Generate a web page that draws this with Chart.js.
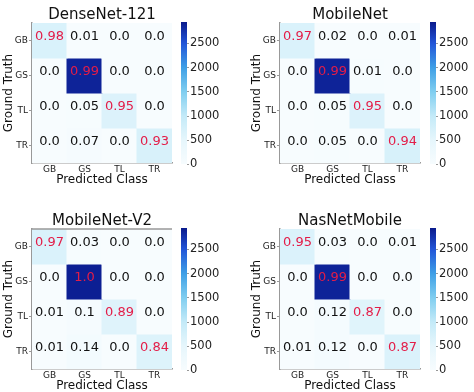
<!DOCTYPE html>
<html><head><meta charset="utf-8">
<script src="https://cdn.jsdelivr.net/npm/chart.js@4.4.1/dist/chart.umd.min.js"></script>
<style>
html,body{margin:0;padding:0;background:#fff;width:474px;height:392px;overflow:hidden;position:relative;}
canvas{position:absolute;}
</style></head><body>
<script>
// ---- data ----
const classes = ['GB', 'GS', 'TL', 'TR'];
const modelNames = ['DenseNet-121', 'MobileNet', 'MobileNet-V2', 'NasNetMobile'];
const denseNet121 = [[0.98, 0.01, 0.0, 0.0], [0.0, 0.99, 0.0, 0.0], [0.0, 0.05, 0.95, 0.0], [0.0, 0.07, 0.0, 0.93]];
const mobileNet = [[0.97, 0.02, 0.0, 0.01], [0.0, 0.99, 0.01, 0.0], [0.0, 0.05, 0.95, 0.0], [0.0, 0.05, 0.0, 0.94]];
const mobileNetV2 = [[0.97, 0.03, 0.0, 0.0], [0.0, 1.0, 0.0, 0.0], [0.01, 0.1, 0.89, 0.0], [0.01, 0.14, 0.0, 0.84]];
const nasNetMobile = [[0.95, 0.03, 0.0, 0.01], [0.0, 0.99, 0.0, 0.0], [0.0, 0.12, 0.87, 0.0], [0.01, 0.12, 0.0, 0.87]];
const classSupport = [700, 2900, 680, 760];
const colorbarTicks = [0, 500, 1000, 1500, 2000, 2500];
const colorbarMax = 2940;

// ---- style ----
const cmapStops = [[0, '#f7fcfe'], [500, '#e6f6fc'], [1000, '#c4eaf8'], [1500, '#80cef0'], [2000, '#3e9fe6'], [2500, '#2255d8'], [2940, '#0a1a8c']];
Chart.defaults.font.family = "'DejaVu Sans', sans-serif";

function hex2rgb(h) { return [1, 3, 5].map(i => parseInt(h.substr(i, 2), 16)); }
function cmap(v) {
  if (v <= cmapStops[0][0]) return cmapStops[0][1];
  for (let i = 1; i < cmapStops.length; i++) {
    const [v1, c1] = cmapStops[i];
    if (v <= v1) {
      const [v0, c0] = cmapStops[i - 1];
      const t = (v - v0) / (v1 - v0);
      const a = hex2rgb(c0), b = hex2rgb(c1);
      return 'rgb(' + a.map((x, k) => Math.round(x + (b[k] - x) * t)).join(',') + ')';
    }
  }
  return cmapStops[cmapStops.length - 1][1];
}
function fmt(v) { return Number.isInteger(v) ? v.toFixed(1) : String(v); }

function addCanvas(left, top, w, h) {
  const cv = document.createElement('canvas');
  cv.width = w; cv.height = h;
  cv.style.left = left + 'px'; cv.style.top = top + 'px';
  document.body.appendChild(cv);
  return cv;
}

function makeMatrix(idx, matrix, left, top, topSpine) {
  const cv = addCanvas(left, top, 180, 196);
  const datasets = classes.map((rowName, r) => ({
    label: rowName,
    data: classes.map(() => [r, r + 1]),
    backgroundColor: classes.map((c, j) => cmap(matrix[r][j] * classSupport[r])),
    borderWidth: 0,
    grouped: false,
    barPercentage: 1,
    categoryPercentage: 1,
    inflateAmount: 0.5
  }));
  const textPlugin = {
    id: 'cellText' + idx,
    afterDatasetsDraw(chart) {
      const { ctx, scales: { x, y }, chartArea } = chart;
      ctx.save();
      ctx.font = "13px 'DejaVu Sans'";
      ctx.textAlign = 'center';
      ctx.textBaseline = 'middle';
      matrix.forEach((row, r) => row.forEach((v, c) => {
        ctx.fillStyle = r === c ? '#e31d48' : '#111';
        ctx.fillText(fmt(v), x.getPixelForValue(c), y.getPixelForValue(r + 0.5) - 3.5);
      }));
      if (topSpine) {
        ctx.strokeStyle = '#999'; ctx.lineWidth = 1.5;
        ctx.beginPath(); ctx.moveTo(chartArea.left, chartArea.top); ctx.lineTo(chartArea.right, chartArea.top); ctx.stroke();
      }
      ctx.restore();
    }
  };
  new Chart(cv, {
    type: 'bar',
    data: { labels: classes, datasets },
    options: {
      responsive: false, animation: false, devicePixelRatio: 1,
      layout: { padding: { left: 0, right: 8, top: 0, bottom: 0 } },
      plugins: {
        legend: { display: false }, tooltip: { enabled: false },
        title: { display: true, fullSize: false, text: modelNames[idx], color: '#111', font: { size: 15, lineHeight: 1, weight: 'normal' }, padding: { top: 8, bottom: 0 } }
      },
      scales: {
        x: {
          type: 'category', offset: true,
          grid: { display: false, drawTicks: false },
          border: { display: true, color: '#999', width: 1.5 },
          ticks: { font: { size: 9 }, color: '#222', padding: 1, maxRotation: 0 },
          title: { display: true, text: 'Predicted Class', font: { size: 12 }, color: '#111', padding: { top: 0, bottom: 8.8 } },
          afterFit(s) { s.height = 33; }
        },
        y: {
          type: 'linear', min: 0, max: 4, reverse: true,
          afterBuildTicks(s) { s.ticks = classes.map((c, i) => ({ value: i + 0.5 })); },
          ticks: { callback: (v) => classes[Math.floor(v)], font: { size: 9 }, color: '#222', padding: 1 },
          grid: { drawOnChartArea: false, drawTicks: true, tickLength: 3, color: '#999' },
          border: { display: true, color: '#999', width: 1.5 },
          title: { display: true, text: 'Ground Truth', font: { size: 12 }, color: '#111', padding: { top: 1.5, bottom: 0 } },
          afterFit(s) { s.width = 32; }
        }
      }
    },
    plugins: [textPlugin]
  });
}

function makeColorbar(left, top) {
  const cv = addCanvas(left, top, 60, 196);
  new Chart(cv, {
    type: 'bar',
    data: {
      labels: [''],
      datasets: [{
        data: [colorbarMax],
        backgroundColor: (c) => {
          const a = c.chart.chartArea;
          if (!a) return '#fff';
          const g = c.chart.ctx.createLinearGradient(0, a.bottom, 0, a.top);
          cmapStops.forEach(([v, col]) => g.addColorStop(v / colorbarMax, col));
          return g;
        },
        barPercentage: 1, categoryPercentage: 1, borderWidth: 0
      }]
    },
    options: {
      responsive: false, animation: false, devicePixelRatio: 1,
      layout: { padding: { left: 0, right: 0, top: 22, bottom: 31.5 } },
      plugins: { legend: { display: false }, tooltip: { enabled: false } },
      scales: {
        x: { display: false },
        y: {
          position: 'right', min: 0, max: colorbarMax,
          afterBuildTicks(s) { s.ticks = colorbarTicks.map(v => ({ value: v })); },
          ticks: { callback: (v) => String(v), font: { size: 11.5 }, color: '#222', padding: 1 },
          grid: { drawOnChartArea: false, drawTicks: true, tickLength: 2, color: '#999' },
          border: { display: false },
          afterFit(s) { s.width = 54; }
        }
      }
    }
  });
}

const allMatrices = [denseNet121, mobileNet, mobileNetV2, nasNetMobile];
allMatrices.forEach((m, i) => {
  const col = i % 2, row = Math.floor(i / 2);
  makeMatrix(i, m, col * 248, row * 206, i === 2);
  makeColorbar(181 + col * 249, row * 206);
});
</script>
</body></html>
